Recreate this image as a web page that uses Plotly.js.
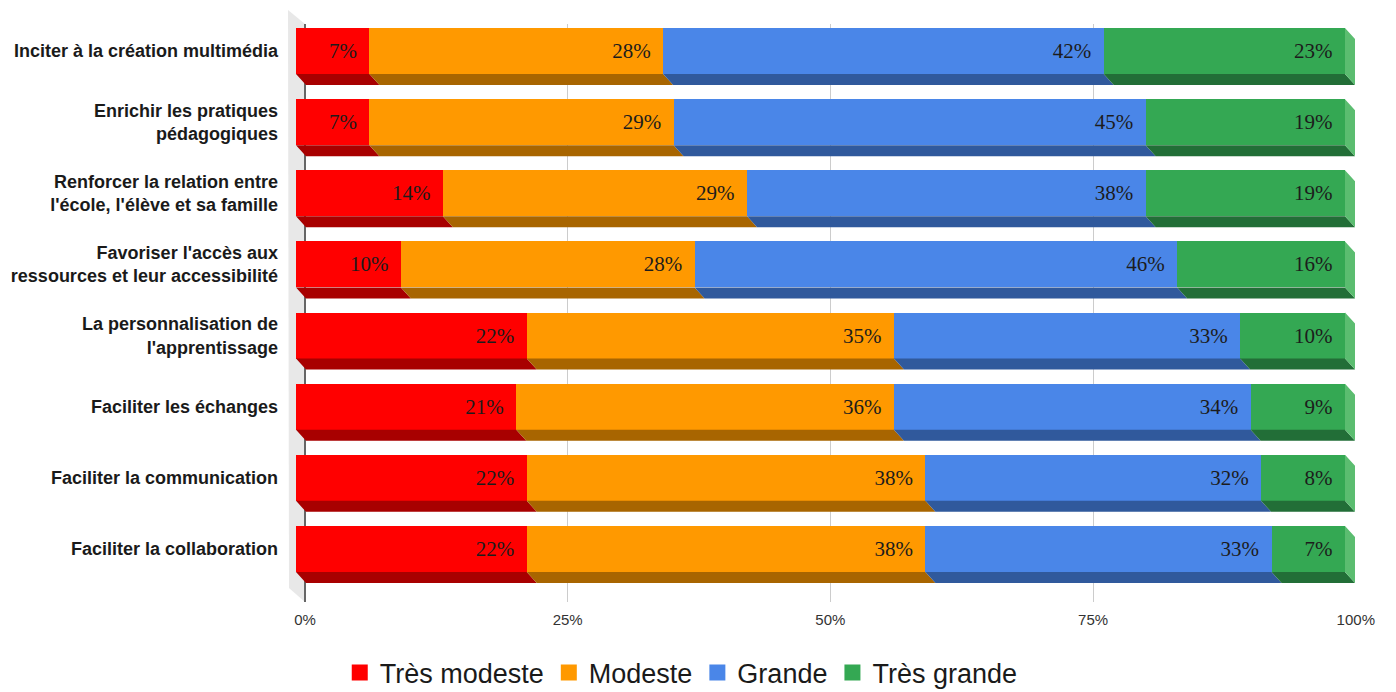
<!DOCTYPE html>
<html><head><meta charset="utf-8">
<script src="https://cdn.plot.ly/plotly-3.0.1.min.js"></script>
<style>html,body{margin:0;padding:0;background:#fff}#chart{width:1396px;height:692px}</style>
</head><body><div id="chart"></div>
<script>
// ---- data ----
const categories = [
  "Inciter à la création multimédia",
  "Enrichir les pratiques<br>pédagogiques",
  "Renforcer la relation entre<br>l'école, l'élève et sa famille",
  "Favoriser l'accès aux<br>ressources et leur accessibilité",
  "La personnalisation de<br>l'apprentissage",
  "Faciliter les échanges",
  "Faciliter la communication",
  "Faciliter la collaboration"
];
const seriesNames = ["Très modeste", "Modeste", "Grande", "Très grande"];
const tresModeste = [7, 7, 14, 10, 22, 21, 22, 22];
const modeste     = [28, 29, 29, 28, 35, 36, 38, 38];
const grande      = [42, 45, 38, 46, 33, 34, 32, 33];
const tresGrande  = [23, 19, 19, 16, 10, 9, 8, 7];
const xTickValues = [0, 25, 50, 75, 100];
const xTickLabels = ["0%", "25%", "50%", "75%", "100%"];

// ---- styles ----
const frontColors = ["#ff0000", "#ff9900", "#4a86e8", "#34a853"];
const bottomColors = ["#a80000", "#a86500", "#30599c", "#226e37"];
const sideColor = "#5bbd70";

// ---- geometry (pixels) ----
const W = 1396, H = 692;
const plotLeft = 296, plotRight = 1356, plotTop = 10, plotBottom = 602;
const frontRight = 1345, backLeft = 305, backTop = 24;
const depthX = 10, depthY = 11;
const rowPitch = 71.14, barPx = 46, firstCenter = 51;

const plotW = plotRight - plotLeft, plotH = plotBottom - plotTop;
const xPerPx = 100 / (frontRight - plotLeft);
const yPerPx = 1 / rowPitch;
const yTop = -(firstCenter - plotTop) / rowPitch;
const yBottom = yTop + plotH / rowPitch;
const barW = barPx / rowPitch;
const dx = depthX * xPerPx, dy = depthY * yPerPx;
const frontXMax = plotW * xPerPx;

const series = [tresModeste, modeste, grande, tresGrande];
const rows = categories.map((_, i) => i);

const traces = [];
// back plane placeholder (so grid and ticks are drawn first)
traces.push({type: "scatter", mode: "markers", x: [null], y: [null], xaxis: "x", yaxis: "y",
  showlegend: false, hoverinfo: "skip"});
// front faces
series.forEach((vals, s) => {
  traces.push({
    type: "bar", orientation: "h", x: vals, y: rows,
    xaxis: "x2", yaxis: "y2", width: barW,
    marker: {color: frontColors[s], line: {width: 0}},
    text: vals.map(v => v + "%\u00a0\u2009"),
    textposition: "inside", insidetextanchor: "end", constraintext: "none",
    textfont: {family: "Liberation Serif, Times New Roman, serif", size: 21, color: "#1c1c1c"},
    name: seriesNames[s], showlegend: false, hoverinfo: "skip"
  });
});
// bottom (depth) faces
const cum = rows.map(() => 0);
series.forEach((vals, s) => {
  const xs = [], ys = [];
  rows.forEach(i => {
    const a = cum[i], b = cum[i] + vals[i];
    const yb = i + barW / 2;
    xs.push(a, b, b + dx, a + dx, a, null);
    ys.push(yb, yb, yb + dy, yb + dy, yb, null);
    cum[i] = b;
  });
  traces.push({
    type: "scatter", mode: "lines", x: xs, y: ys, xaxis: "x2", yaxis: "y2",
    fill: "toself", fillcolor: bottomColors[s], line: {width: 0, color: bottomColors[s]},
    showlegend: false, hoverinfo: "skip"
  });
});
// right side face of last segment
{
  const xs = [], ys = [];
  rows.forEach(i => {
    const e = cum[i];
    const yt = i - barW / 2, yb = i + barW / 2;
    xs.push(e, e + dx, e + dx, e, e, null);
    ys.push(yt, yt + dy, yb + dy, yb, yt, null);
  });
  traces.push({
    type: "scatter", mode: "lines", x: xs, y: ys, xaxis: "x2", yaxis: "y2",
    fill: "toself", fillcolor: sideColor, line: {width: 0, color: sideColor},
    showlegend: false, hoverinfo: "skip"
  });
}
// legend entries
seriesNames.forEach((n, s) => {
  traces.push({
    type: "scatter", mode: "markers", x: [null], y: [null], xaxis: "x2", yaxis: "y2",
    marker: {symbol: "square", size: 18, color: frontColors[s]},
    name: n, showlegend: true, hoverinfo: "skip"
  });
});

// left wall in paper coordinates
const px2x = p => (p - plotLeft) / plotW;
const py2y = p => (plotBottom - p) / plotH;
const wallPath = "M" + px2x(288) + "," + py2y(plotTop) +
  " L" + px2x(backLeft) + "," + py2y(backTop) +
  " L" + px2x(backLeft) + "," + py2y(plotBottom) +
  " L" + px2x(289) + "," + py2y(plotBottom - 14) + " Z";

const layout = {
  width: W, height: H,
  margin: {l: plotLeft, r: W - plotRight, t: plotTop, b: H - plotBottom, pad: 0},
  paper_bgcolor: "#ffffff", plot_bgcolor: "rgba(0,0,0,0)",
  barmode: "stack", bargap: 0,
  font: {family: "Liberation Sans, Arial, sans-serif", color: "#222"},
  showlegend: true,
  legend: {
    orientation: "h", xref: "container", yref: "container",
    x: 0.488, xanchor: "center", y: (H - 673) / H, yanchor: "middle",
    font: {family: "Liberation Sans, Arial, sans-serif", size: 27, color: "#1a1a1a"},
    itemsizing: "trace", traceorder: "normal"
  },
  // back plane (grid + ticks)
  xaxis: {
    domain: [(backLeft - plotLeft) / plotW, 1], range: [0, 100.02], anchor: "y",
    tickvals: xTickValues, ticktext: xTickLabels, ticks: "",
    showgrid: true, gridcolor: "#cccccc", gridwidth: 1,
    zeroline: true, zerolinecolor: "#666666", zerolinewidth: 1.5,
    showline: false, fixedrange: true, ticklabelstandoff: 7,
    tickfont: {family: "Liberation Sans, Arial, sans-serif", size: 15, color: "#333"}
  },
  yaxis: {
    domain: [0, (plotBottom - backTop) / plotH], range: [0, 1], anchor: "x",
    visible: false, showgrid: false, zeroline: false, fixedrange: true
  },
  // front plane (bars)
  xaxis2: {
    domain: [0, 1], range: [0, frontXMax], anchor: "y2",
    visible: false, showgrid: false, zeroline: false, fixedrange: true
  },
  yaxis2: {
    domain: [0, 1], range: [yBottom, yTop], anchor: "x2",
    tickvals: rows, ticktext: categories, ticks: "",
    showgrid: false, zeroline: false, showline: false, fixedrange: true,
    ticklabelstandoff: 17,
    tickfont: {family: "Liberation Sans, Arial, sans-serif", size: 18, color: "#1a1a1a", weight: "bold"}
  },
  shapes: [{
    type: "path", xref: "paper", yref: "paper", path: wallPath,
    fillcolor: "#e8e8e8", line: {width: 0}, layer: "below"
  }]
};

Plotly.newPlot("chart", traces, layout, {displayModeBar: false, staticPlot: true});
</script>
</body></html>
